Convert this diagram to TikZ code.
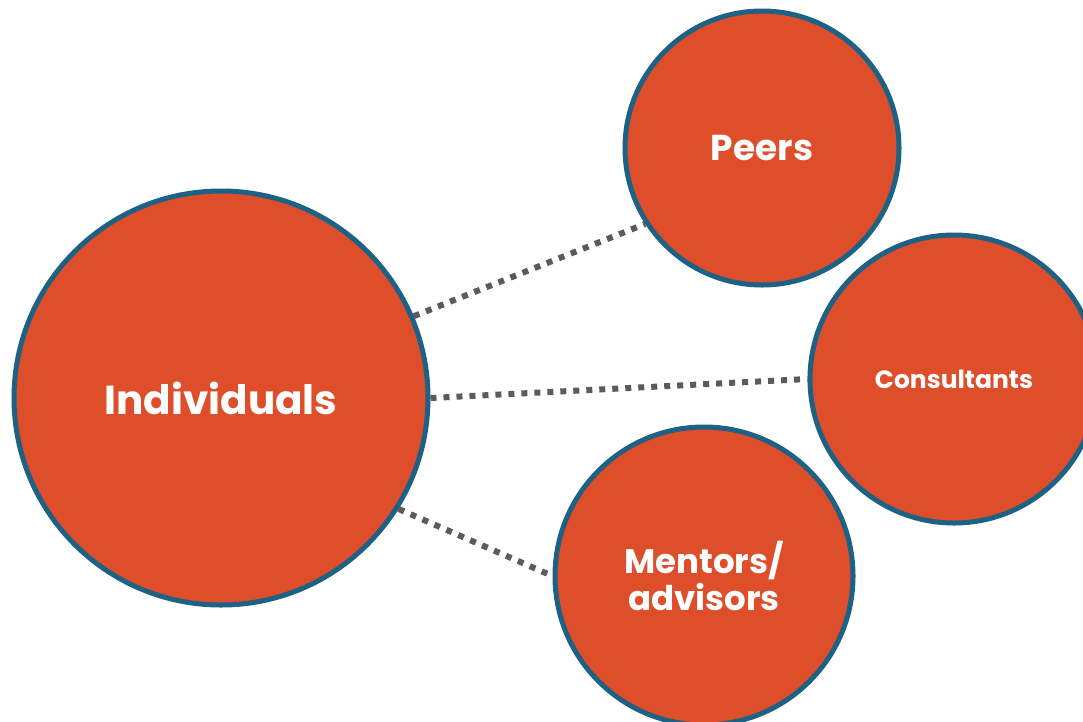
\documentclass[tikz,border=0pt]{standalone}
\usepackage{fontspec}
\setmainfont{Poppins}
\definecolor{fillc}{HTML}{DE4E2A}
\definecolor{edgec}{HTML}{1D6184}
\definecolor{dotc}{HTML}{5B5B5B}
\begin{document}
\begin{tikzpicture}[x=1pt,y=-1pt,
  bubble/.style={circle,fill=fillc,draw=edgec,line width=5pt,inner sep=0pt,text=white,align=center,font=\bfseries},
  link/.style={dotc,line width=6pt,dash pattern=on 6pt off 7pt}]
\useasboundingbox (0,0) rectangle (1083,721);
\clip (0,0) rectangle (1083,721);
\node[bubble,minimum size=414pt,font=\bfseries\fontsize{40.5}{42}\selectfont] (ind) at (221,398) {Individuals};
\node[bubble,minimum size=274pt,font=\bfseries\fontsize{36}{38}\selectfont] (peer) at (762,148) {Peers};
\node[bubble,minimum size=288pt,font=\bfseries\fontsize{25}{27}\selectfont] (cons) at (954,379) {Consultants};
\node[bubble,minimum size=298pt,font=\bfseries\fontsize{34}{37}\selectfont] (ment) at (704,576) {Mentors/\\advisors};
\draw[link] (ind.23) -- (peer.213);
\draw[link] (ind.0) -- (cons.180);
\draw[link] (ind.-32) -- (ment.180);
\end{tikzpicture}
\end{document}
